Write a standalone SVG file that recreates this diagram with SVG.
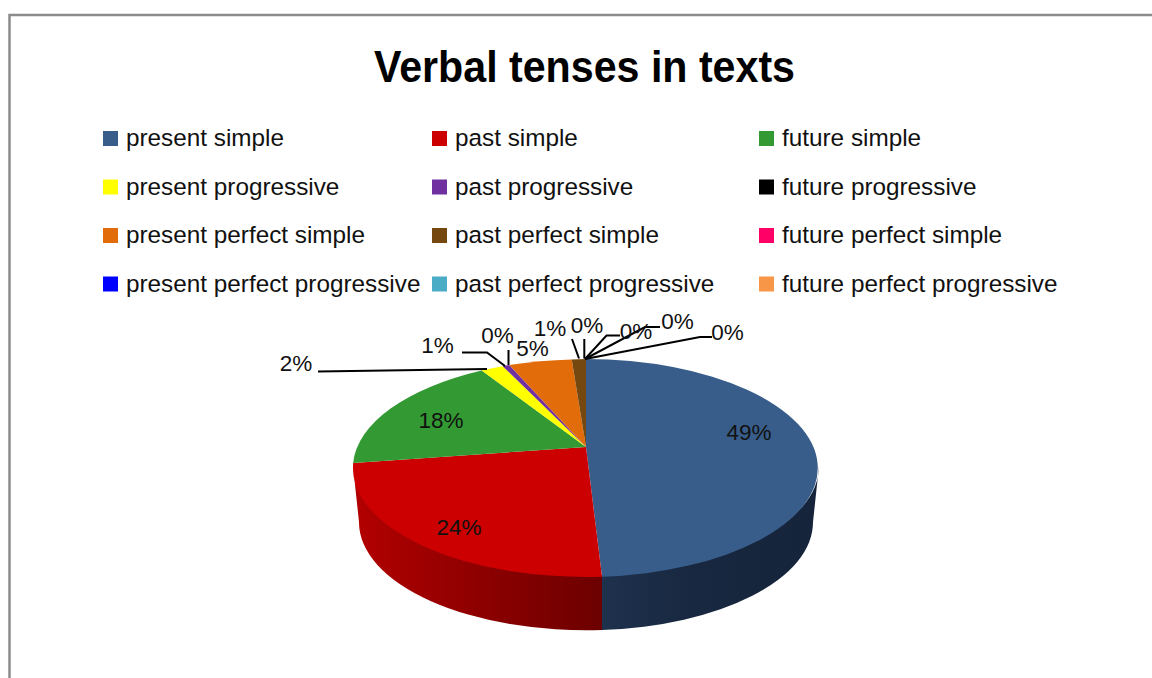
<svg xmlns="http://www.w3.org/2000/svg" width="1152" height="678" viewBox="0 0 1152 678">
<defs>
<style>
.t{font-family:"Liberation Sans",Arial,sans-serif;font-size:24.3px;fill:#111}
.l{font-family:"Liberation Sans",Arial,sans-serif;font-size:22.5px;fill:#111;text-anchor:middle}
.ld{fill:none;stroke:#000;stroke-width:2}
</style>
<linearGradient id="gRed" x1="353" y1="0" x2="602" y2="0" gradientUnits="userSpaceOnUse">
<stop offset="0" stop-color="#b30000"/><stop offset="0.5" stop-color="#8e0000"/><stop offset="1" stop-color="#6c0000"/>
</linearGradient>
<linearGradient id="gBlue" x1="602" y1="0" x2="819" y2="0" gradientUnits="userSpaceOnUse">
<stop offset="0" stop-color="#1e314d"/><stop offset="0.4" stop-color="#182840"/><stop offset="1" stop-color="#15243a"/>
</linearGradient>
</defs>
<rect x="9.5" y="15" width="1200" height="700" fill="#fff" stroke="#8c8c8c" stroke-width="2.5"/>
<text x="584.5" y="82" text-anchor="middle" font-family="'Liberation Sans',Arial,sans-serif" font-weight="bold" font-size="44" textLength="421" lengthAdjust="spacingAndGlyphs" fill="#000">Verbal tenses in texts</text>

<g id="legend">
<g id="leg1"><rect x="103" y="131" width="15" height="15" fill="#385d8a"/><text class="t" x="126" y="146">present simple</text></g>
<g id="leg2"><rect x="432" y="131" width="15" height="15" fill="#cc0000"/><text class="t" x="455" y="146">past simple</text></g>
<g id="leg3"><rect x="759" y="131" width="15" height="15" fill="#339933"/><text class="t" x="782" y="146">future simple</text></g>
<g id="leg4"><rect x="103" y="179.5" width="15" height="15" fill="#ffff00"/><text class="t" x="126" y="194.5">present progressive</text></g>
<g id="leg5"><rect x="432" y="179.5" width="15" height="15" fill="#7030a0"/><text class="t" x="455" y="194.5">past progressive</text></g>
<g id="leg6"><rect x="759" y="179.5" width="15" height="15" fill="#000000"/><text class="t" x="782" y="194.5">future progressive</text></g>
<g id="leg7"><rect x="103" y="228" width="15" height="15" fill="#e26b0a"/><text class="t" x="126" y="243">present perfect simple</text></g>
<g id="leg8"><rect x="432" y="228" width="15" height="15" fill="#754810"/><text class="t" x="455" y="243">past perfect simple</text></g>
<g id="leg9"><rect x="759" y="228" width="15" height="15" fill="#ff0066"/><text class="t" x="782" y="243">future perfect simple</text></g>
<g id="leg10"><rect x="103" y="276.5" width="15" height="15" fill="#0000ff"/><text class="t" x="126" y="291.5">present perfect progressive</text></g>
<g id="leg11"><rect x="432" y="276.5" width="15" height="15" fill="#4bacc6"/><text class="t" x="455" y="291.5">past perfect progressive</text></g>
<g id="leg12"><rect x="759" y="276.5" width="15" height="15" fill="#f79646"/><text class="t" x="782" y="291.5">future perfect progressive</text></g>
</g>

<g id="pie">
<path id="side-red" d="M353,466 L359,522 A227,108 0 0 0 602,630 L602,575 A233,109 0 0 1 353,466 Z" fill="url(#gRed)"/>
<path id="side-blue" d="M602,575 A233,109 0 0 0 819,466 L813,522 A227,108 0 0 1 602,630 Z" fill="url(#gBlue)"/>
<path id="s-present-simple" d="M586,447 L586,359 A233,109 0 0 1 602,576.7 Z" fill="#385d8a"/>
<path id="s-past-simple" d="M586,447 L602,576.7 A233,109 0 0 1 353.2,463 Z" fill="#cc0000"/>
<path id="s-future-simple" d="M586,447 L353.2,463 A233,109 0 0 1 481.7,370.5 Z" fill="#339933"/>
<path id="s-present-progressive" d="M586,447 L481.7,370.5 A233,109 0 0 1 502.7,366.2 Z" fill="#ffff00"/>
<path id="s-past-progressive" d="M586,447 L502.7,366.2 A233,109 0 0 1 509.3,365 Z" fill="#7030a0"/>
<path id="s-present-perfect-simple" d="M586,447 L509.3,365 A233,109 0 0 1 571.7,359.4 Z" fill="#e26b0a"/>
<path id="s-past-perfect-simple" d="M586,447 L571.7,359.4 A233,109 0 0 1 586,359 Z" fill="#754810"/>
</g>

<g id="connectors">
<polyline class="ld" points="318,371.5 487,369"/>
<polyline class="ld" points="462,352.5 487,352.5 505,366"/>
<polyline class="ld" points="508.5,350 508.5,365"/>
<polyline class="ld" points="572,339 579,358.5"/>
<polyline class="ld" points="584.3,339 584.3,358.5"/>
<polyline class="ld" points="620,335.5 606.5,335.5 585,359"/>
<polyline class="ld" points="660,327 645,327 585,359"/>
<polyline class="ld" points="712,337 700,337 585,359"/>
</g>

<g id="labels">
<text class="l" x="749" y="440">49%</text>
<text class="l" x="459" y="535">24%</text>
<text class="l" x="441" y="428">18%</text>
<text class="l" x="296" y="371">2%</text>
<text class="l" x="437.5" y="353">1%</text>
<text class="l" x="497.5" y="343">0%</text>
<text class="l" x="532.5" y="355.5">5%</text>
<text class="l" x="550" y="335.5">1%</text>
<text class="l" x="587" y="333">0%</text>
<text class="l" x="636" y="339">0%</text>
<text class="l" x="677.5" y="329">0%</text>
<text class="l" x="727.5" y="340">0%</text>
</g>
</svg>
